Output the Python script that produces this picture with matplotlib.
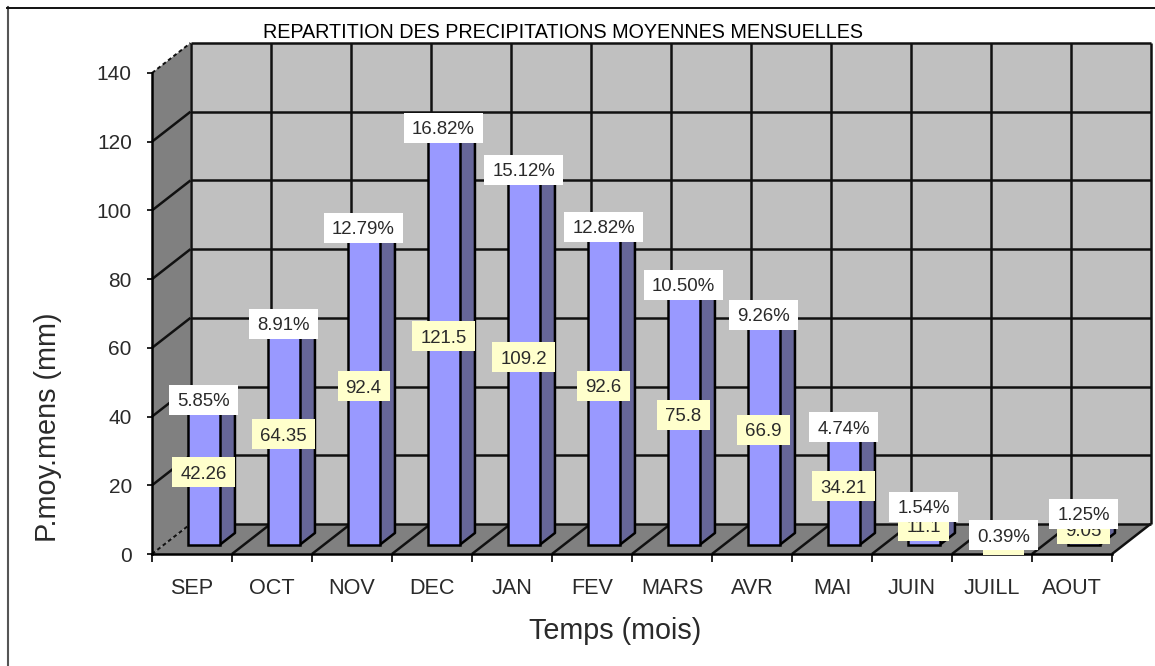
import matplotlib
matplotlib.use("Agg")
import matplotlib.pyplot as plt
from matplotlib.patches import Polygon, Rectangle
from matplotlib.transforms import IdentityTransform

months = ["SEP", "OCT", "NOV", "DEC", "JAN", "FEV", "MARS", "AVR", "MAI", "JUIN", "JUILL", "AOUT"]
rain = [42.26, 64.35, 92.4, 121.5, 109.2, 92.6, 75.8, 66.9, 34.21, 11.1, 2.8, 9.05]
rain_text = ["42.26", "64.35", "92.4", "121.5", "109.2", "92.6", "75.8", "66.9", "34.21", "11.1", "2.8", "9.05"]
shares = ["5.85%", "8.91%", "12.79%", "16.82%", "15.12%", "12.82%", "10.50%", "9.26%", "4.74%", "1.54%", "0.39%", "1.25%"]
y_ticks = [0, 20, 40, 60, 80, 100, 120, 140]

W, H = 1155, 666
plt.rcParams["font.family"] = ["Liberation Sans", "DejaVu Sans"]
fig = plt.figure(figsize=(W / 100, H / 100), dpi=100, facecolor="white")
ax = fig.add_axes([152 / W, (H - 554) / H, 960 / W, 481 / H])
ax.set_xlim(0, 12)
ax.set_ylim(0, 140)
ax.patch.set_visible(False)

DX = 38.5 / 80
DY = 30 / (481 / 140)
FRONT, BACK = 0.3, 0.7
BAR_W = 0.4
LW = 1.8
TXT = "#2a2a2a"


def poly(pts, **kw):
    ax.add_patch(Polygon(pts, closed=True, clip_on=False, **kw))


# walls and floor
poly([(DX, DY), (12 + DX, DY), (12 + DX, 140 + DY), (DX, 140 + DY)], fc="#C0C0C0", ec="none", zorder=0)
poly([(0, 0), (DX, DY), (DX, 140 + DY), (0, 140)], fc="#808080", ec="none", zorder=0)
poly([(0, 0), (12, 0), (12 + DX, DY), (DX, DY)], fc="#808080", ec="none", zorder=0)

grid = dict(color="#111111", lw=LW, clip_on=False, zorder=1, solid_capstyle="butt")
for v in y_ticks:
    ax.plot([DX, 12 + DX], [v + DY, v + DY], **grid)
    if 0 < v < 140:
        ax.plot([0, DX], [v, v + DY], **grid)
for i in range(13):
    ax.plot([i + DX, i + DX], [DY, 140 + DY], **grid)
    if 0 < i:
        ax.plot([i, i + DX], [0, DY], **grid)
dashed = dict(color="#111111", lw=1.4, ls=(0, (2, 1.5)), clip_on=False, zorder=1)
ax.plot([0, DX], [140, 140 + DY], **dashed)
ax.plot([0, DX], [0, DY], **dashed)

# bars
xs = [i + 0.5 + FRONT * DX for i in range(12)]
base = FRONT * DY
ax.bar(xs, rain, width=BAR_W, bottom=base, color="#9999FF", edgecolor="black", linewidth=LW, zorder=3, clip_on=False)
d = BACK - FRONT
for x, v in zip(xs, rain):
    r = x + BAR_W / 2
    l = x - BAR_W / 2
    t = base + v
    poly([(r, base), (r + d * DX, base + d * DY), (r + d * DX, t + d * DY), (r, t)],
         fc="#666699", ec="black", lw=LW, zorder=2.9, joinstyle="round")
    poly([(l, t), (r, t), (r + d * DX, t + d * DY), (l + d * DX, t + d * DY)],
         fc="#CCCCFF", ec="black", lw=LW, zorder=2.9, joinstyle="round")

# data labels
renderer = fig.canvas.get_renderer()


def label(x, y, s, fc, z):
    t = ax.annotate(s, (x, y), xytext=(0, -1.3), textcoords="offset points", ha="center", va="center",
                    fontsize=13.4, color=TXT, zorder=z + 0.1, annotation_clip=False)
    bb = t.get_window_extent(renderer)
    cx, cy = ax.transData.transform((x, y))
    w = bb.width + 16
    ax.add_patch(Rectangle((cx - w / 2, cy - 15), w, 30, fc=fc, ec="none", zorder=z,
                           transform=IdentityTransform(), clip_on=False))


for x, v, rt, sh in zip(xs, rain, rain_text, shares):
    label(x, base + v / 2, rt, "#FFFFCC", 5)
    label(x, base + v, sh, "white", 6)

# axes
for s in ("top", "right"):
    ax.spines[s].set_visible(False)
ax.spines["bottom"].set_linewidth(LW)
ax.spines["left"].set_linewidth(LW)
ax.set_yticks(y_ticks)
ax.set_xticks(range(13))
ax.set_xticklabels([])
ax.set_xticks([i + 0.5 for i in range(12)], minor=True)
ax.set_xticklabels(months, minor=True)
ax.tick_params(axis="x", which="major", length=5.5, width=1.2)
ax.tick_params(axis="x", which="minor", length=0, pad=17, labelsize=15.6, labelcolor=TXT)
ax.tick_params(axis="y", length=3.5, width=1.2, pad=11, labelsize=15, labelcolor=TXT)

fig.text(563 / W, 1 - 32 / H, "REPARTITION DES PRECIPITATIONS MOYENNES MENSUELLES", ha="center", va="center",
         fontsize=14.2, color="black")
fig.text(615 / W, 1 - 631 / H, "Temps (mois)", ha="center", va="center", fontsize=20.7, color=TXT)
fig.text(48 / W, 1 - 427 / H, "P.moy.mens (mm)", ha="center", va="center", rotation=90, fontsize=20.8, color=TXT)

# outer frame
fig.add_artist(plt.Line2D([8 / W, 8 / W], [0, 1 - 7 / H], color="#555555", lw=1.5))
fig.add_artist(plt.Line2D([7 / W, 1 - 0], [1 - 7.5 / H, 1 - 7.5 / H], color="#111111", lw=1.4))

fig.savefig("out.png", dpi=100, facecolor="white")
